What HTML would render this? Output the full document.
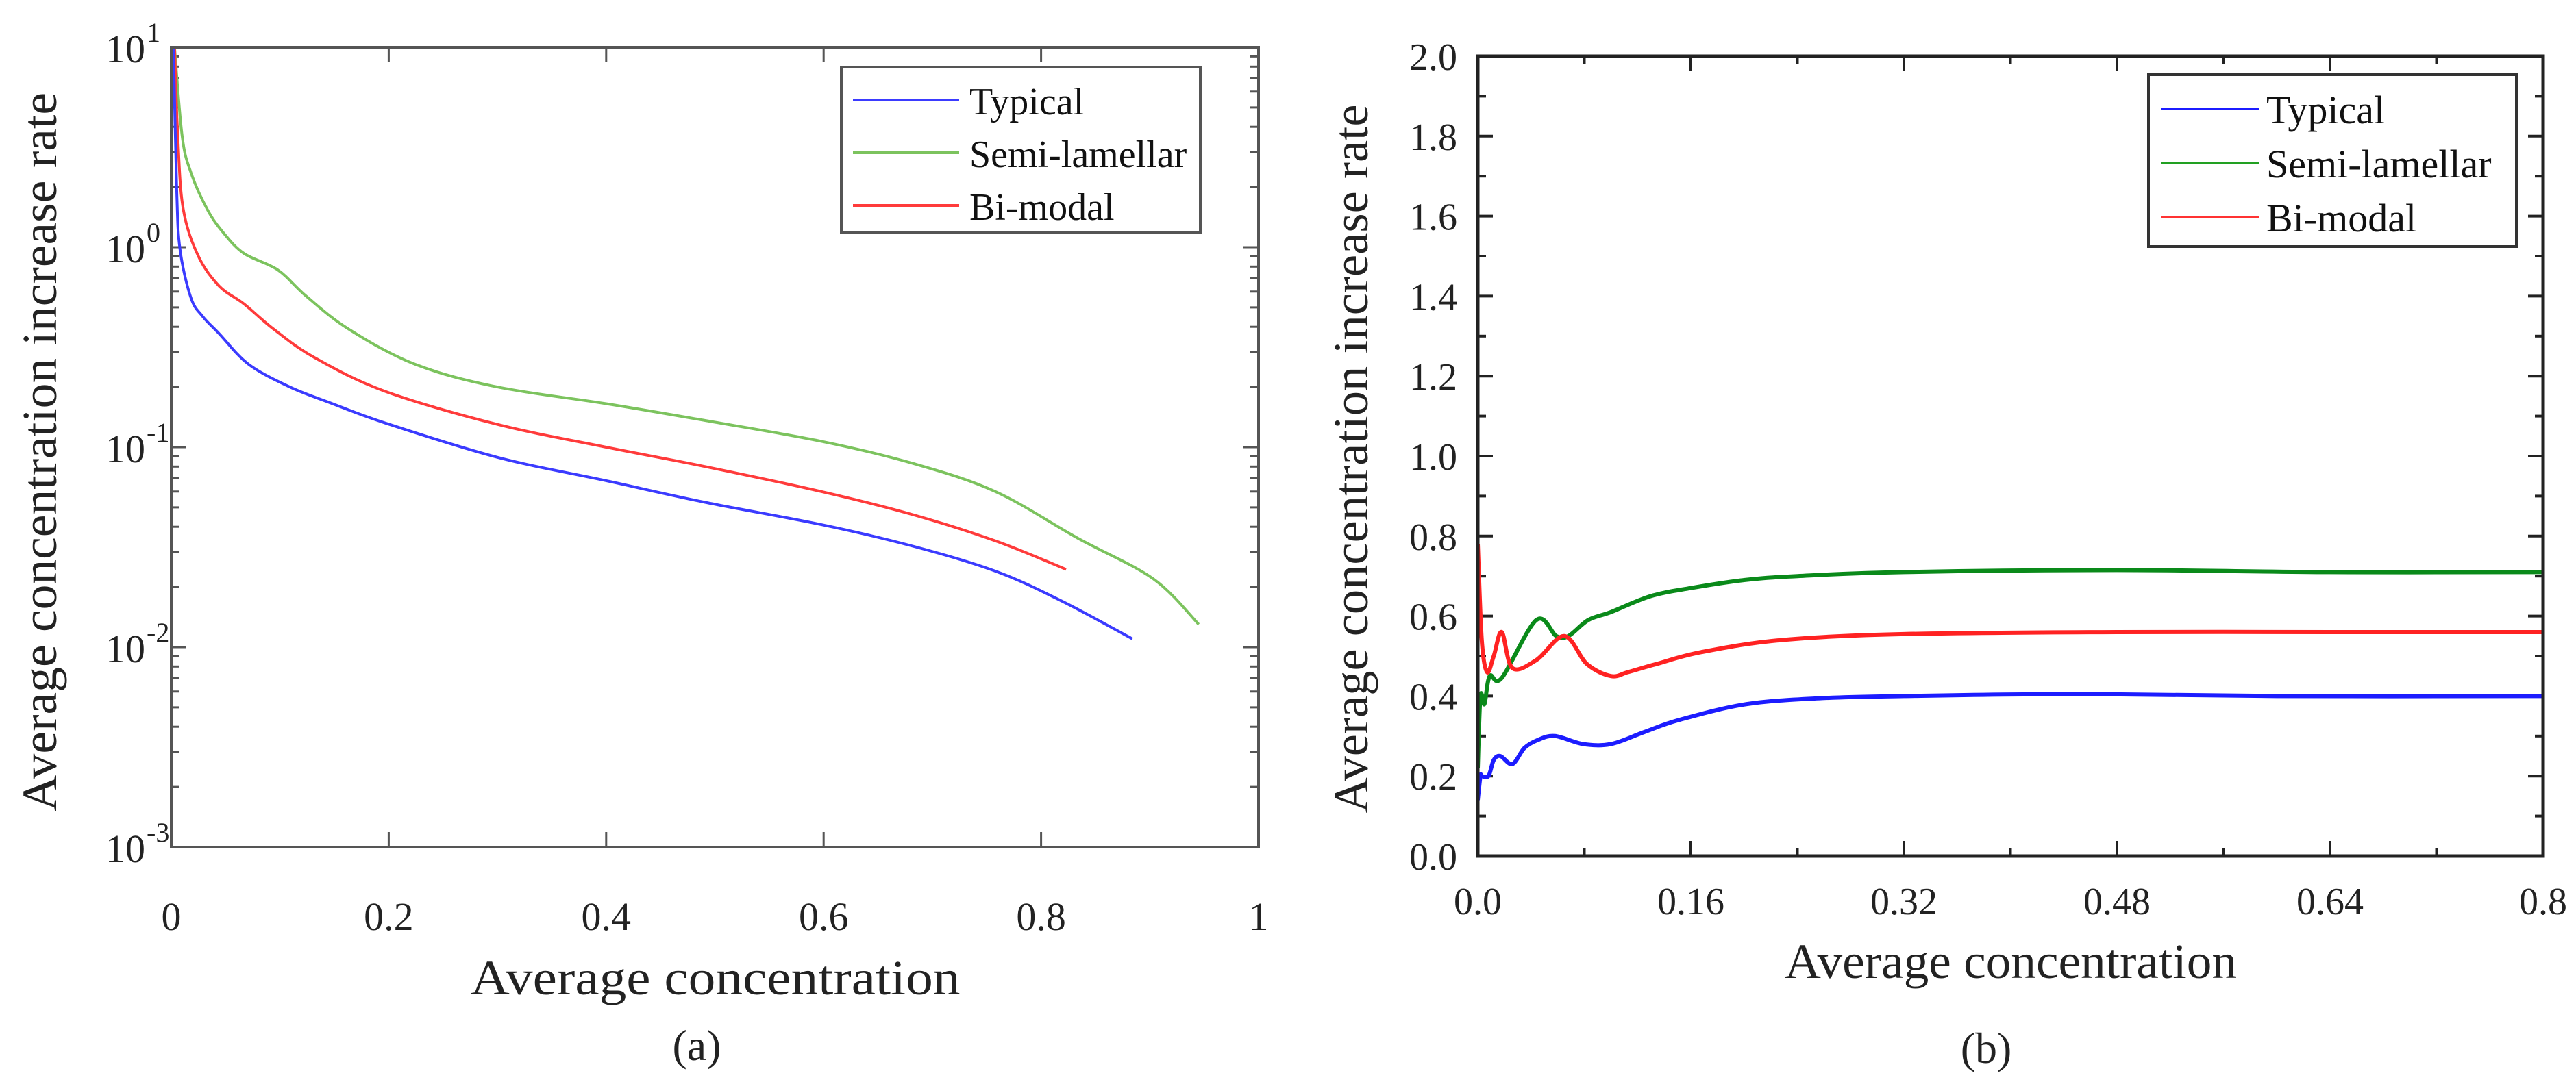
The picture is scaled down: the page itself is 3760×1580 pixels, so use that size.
<!DOCTYPE html>
<html><head><meta charset="utf-8"><style>
html,body{margin:0;padding:0;background:#fff;}
svg{display:block;font-family:"Liberation Serif",serif;}
</style></head><body>
<svg id="fig" width="3760" height="1580" viewBox="0 0 3760 1580" xmlns="http://www.w3.org/2000/svg">
<g id="pa"></g>
<g id="pb"></g>
</svg>
<script>
// ---- Panel (a) data ----
const aTypicalX = [0.002,0.005,0.008,0.018,0.029,0.044,0.071,0.109,0.147,0.197,0.3,0.4,0.491,0.598,0.682,0.758,0.819,0.884];
const aTypicalY = [10,1.95,0.98,0.56,0.45,0.37,0.26,0.2,0.166,0.132,0.089,0.068,0.053,0.041,0.032,0.024,0.017,0.011];
const aSemiX = [0.003,0.01,0.018,0.033,0.048,0.067,0.098,0.124,0.163,0.224,0.3,0.4,0.491,0.598,0.682,0.758,0.834,0.903,0.945];
const aSemiY = [10,3.6,2.37,1.55,1.18,0.93,0.77,0.57,0.39,0.26,0.2,0.165,0.136,0.107,0.083,0.06,0.035,0.022,0.013];
const aBiX = [0.003,0.006,0.011,0.025,0.044,0.067,0.094,0.132,0.197,0.3,0.4,0.491,0.598,0.682,0.758,0.823];
const aBiY = [10,3.6,1.55,0.9,0.64,0.52,0.39,0.28,0.19,0.13,0.1,0.08,0.06,0.046,0.034,0.0245];
const aXTicks = [0,0.2,0.4,0.6,0.8,1];
const aXTickLabels = ["0","0.2","0.4","0.6","0.8","1"];
const aYDecades = [1,0,-1,-2,-3];
// ---- Panel (b) data ----
const bTypicalX = [0,0.002,0.003,0.008,0.012,0.017,0.026,0.035,0.045,0.058,0.079,0.1,0.125,0.151,0.202,0.26,0.32,0.45,0.6,0.8];
const bTypicalY = [0.14,0.2,0.2,0.2,0.24,0.25,0.23,0.27,0.29,0.3,0.28,0.28,0.31,0.34,0.38,0.395,0.4,0.405,0.4,0.4];
const bSemiX = [0,0.002,0.005,0.009,0.018,0.044,0.059,0.068,0.083,0.1,0.13,0.16,0.2,0.24,0.32,0.48,0.64,0.8];
const bSemiY = [0.22,0.4,0.38,0.45,0.445,0.59,0.55,0.55,0.59,0.61,0.65,0.67,0.69,0.70,0.71,0.715,0.71,0.71];
const bBiX = [0,0.003,0.007,0.012,0.018,0.026,0.044,0.065,0.082,0.1,0.113,0.134,0.168,0.228,0.32,0.48,0.64,0.8];
const bBiY = [0.78,0.54,0.46,0.5,0.56,0.47,0.49,0.55,0.48,0.45,0.46,0.48,0.51,0.54,0.555,0.56,0.56,0.56];
const bXTicks = [0,0.16,0.32,0.48,0.64,0.8];
const bXTickLabels = ["0.0","0.16","0.32","0.48","0.64","0.8"];
const bYTicks = [0,0.2,0.4,0.6,0.8,1.0,1.2,1.4,1.6,1.8,2.0];
const bYTickLabels = ["0.0","0.2","0.4","0.6","0.8","1.0","1.2","1.4","1.6","1.8","2.0"];

const NS = "http://www.w3.org/2000/svg";
function mk(parent, tag, attrs, text){
  const e = document.createElementNS(NS, tag);
  for (const k in attrs) e.setAttribute(k, attrs[k]);
  if (text !== undefined) e.textContent = text;
  parent.appendChild(e);
  return e;
}
function smoothPath(pts){
  let d = 'M'+pts[0][0].toFixed(1)+','+pts[0][1].toFixed(1);
  for (let i=0;i<pts.length-1;i++){
    const p0 = pts[Math.max(0,i-1)], p1 = pts[i], p2 = pts[i+1], p3 = pts[Math.min(pts.length-1,i+2)];
    const c1x = p1[0]+(p2[0]-p0[0])/6, c1y = p1[1]+(p2[1]-p0[1])/6;
    const c2x = p2[0]-(p3[0]-p1[0])/6, c2y = p2[1]-(p3[1]-p1[1])/6;
    d += ' C'+c1x.toFixed(1)+','+c1y.toFixed(1)+' '+c2x.toFixed(1)+','+c2y.toFixed(1)+' '+p2[0].toFixed(1)+','+p2[1].toFixed(1);
  }
  return d;
}
// ---------- Panel A ----------
const pa = document.getElementById('pa');
const A = {l:250, r:1837, t:69, b:1237};
const ax = v => A.l + v*(A.r-A.l);
const ay = v => A.t + (1-Math.log10(v))*(A.b-A.t)/4;
for (let d=-3; d<1; d++){
  for (let m=2; m<10; m++){
    const y = ay(m*Math.pow(10,d));
    let t = mk(pa,'line',{x1:A.l,y1:y,x2:A.l+12,y2:y,stroke:'#555','stroke-width':3});
    
    
    t = mk(pa,'line',{x1:A.r,y1:y,x2:A.r-12,y2:y,stroke:'#555','stroke-width':3});
    
    
  }
}
aYDecades.forEach(d=>{
  const y = ay(Math.pow(10,d));
  let t = mk(pa,'line',{x1:A.l,y1:y,x2:A.l+22,y2:y,stroke:'#555','stroke-width':3});
  
  
  t = mk(pa,'line',{x1:A.r,y1:y,x2:A.r-22,y2:y,stroke:'#555','stroke-width':3});
  
  
  const tx = mk(pa,'text',{x:212,y:y+22,'text-anchor':'end','font-size':58,fill:'#222'});
  
  
  mk(tx,'tspan',{},'10');
  const sup = mk(pa,'text',{x:214,y:y-8,'text-anchor':'start','font-size':40,fill:'#222'}, String(d));
  
  
});
aXTicks.forEach((v,i)=>{
  const x = ax(v);
  let t = mk(pa,'line',{x1:x,y1:A.b,x2:x,y2:A.b-22,stroke:'#555','stroke-width':3});
  
  
  t = mk(pa,'line',{x1:x,y1:A.t,x2:x,y2:A.t+22,stroke:'#555','stroke-width':3});
  
  
  const tx = mk(pa,'text',{x:x,y:1358,'text-anchor':'middle','font-size':58,fill:'#222'}, aXTickLabels[i]);
  
  
});
function seriesA(xs, ys, color, name){
  const pts = xs.map((x,i)=>[ax(x), ay(ys[i])]);
  const p = mk(pa,'path',{d:smoothPath(pts),fill:'none',stroke:color,'stroke-width':4,'stroke-linejoin':'round'});
  
  
}
seriesA(aSemiX,aSemiY,'#7cc35e','line-semi-lamellar');
seriesA(aBiX,aBiY,'#ff3b3b','line-bi-modal');
seriesA(aTypicalX,aTypicalY,'#3b3bff','line-typical');
let fr = mk(pa,'rect',{x:A.l,y:A.t,width:A.r-A.l,height:A.b-A.t,fill:'none',stroke:'#555','stroke-width':4});


const legA = mk(pa,'g',{});


mk(legA,'rect',{x:1228,y:98,width:524,height:242,fill:'#fff',stroke:'#555','stroke-width':4});
[['Typical','#3b3bff'],['Semi-lamellar','#7cc35e'],['Bi-modal','#ff3b3b']].forEach((e,i)=>{
  const g = mk(legA,'g',{});
  
  
  const y = 146 + i*77;
  mk(g,'line',{x1:1245,y1:y,x2:1400,y2:y,stroke:e[1],'stroke-width':4});
  mk(g,'text',{x:1415,y:y+21,'font-size':56,fill:'#111'}, e[0]);
});
let t1 = mk(pa,'text',{x:1044,y:1452,'text-anchor':'middle','font-size':72,fill:'#222',textLength:715,lengthAdjust:'spacingAndGlyphs'},'Average concentration');


let t2 = mk(pa,'text',{x:0,y:0,'text-anchor':'middle','font-size':72,fill:'#222',transform:'translate(82,660) rotate(-90)',textLength:1050,lengthAdjust:'spacingAndGlyphs'},'Average concentration increase rate');


let t3 = mk(pa,'text',{x:1017,y:1548,'text-anchor':'middle','font-size':64,fill:'#222'},'(a)');



// ---------- Panel B ----------
const pb = document.getElementById('pb');
const B = {l:2157, r:3712, t:82, b:1250};
const bx = v => B.l + v/0.8*(B.r-B.l);
const by = v => B.b - v/2*(B.b-B.t);
for (let i=0;i<20;i++){
  const v = 0.1+i*0.2; if (v>2) break;
  const y = by(v);
  let t = mk(pb,'line',{x1:B.l,y1:y,x2:B.l+12,y2:y,stroke:'#222','stroke-width':4});
  
  
  t = mk(pb,'line',{x1:B.r,y1:y,x2:B.r-12,y2:y,stroke:'#222','stroke-width':4});
  
  
}
bYTicks.forEach((v,i)=>{
  const y = by(v);
  let t = mk(pb,'line',{x1:B.l,y1:y,x2:B.l+22,y2:y,stroke:'#222','stroke-width':4});
  
  
  t = mk(pb,'line',{x1:B.r,y1:y,x2:B.r-22,y2:y,stroke:'#222','stroke-width':4});
  
  
  const tx = mk(pb,'text',{x:2127,y:y+20,'text-anchor':'end','font-size':56,fill:'#222'}, bYTickLabels[i]);
  
  
});
for (let i=0;i<5;i++){
  const x = bx(0.08+i*0.16);
  let t = mk(pb,'line',{x1:x,y1:B.b,x2:x,y2:B.b-12,stroke:'#222','stroke-width':4});
  
  
  t = mk(pb,'line',{x1:x,y1:B.t,x2:x,y2:B.t+12,stroke:'#222','stroke-width':4});
  
  
}
bXTicks.forEach((v,i)=>{
  const x = bx(v);
  let t = mk(pb,'line',{x1:x,y1:B.b,x2:x,y2:B.b-22,stroke:'#222','stroke-width':4});
  
  
  t = mk(pb,'line',{x1:x,y1:B.t,x2:x,y2:B.t+22,stroke:'#222','stroke-width':4});
  
  
  const tx = mk(pb,'text',{x:x,y:1335,'text-anchor':'middle','font-size':56,fill:'#222'}, bXTickLabels[i]);
  
  
});
function seriesB(xs, ys, color, name){
  const pts = xs.map((x,i)=>[bx(x), by(ys[i])]);
  const p = mk(pb,'path',{d:smoothPath(pts),fill:'none',stroke:color,'stroke-width':6,'stroke-linejoin':'round'});
  
  
}
seriesB(bTypicalX,bTypicalY,'#1c1cff','line-typical');
seriesB(bSemiX,bSemiY,'#0a8a1a','line-semi-lamellar');
seriesB(bBiX,bBiY,'#ff2222','line-bi-modal');
fr = mk(pb,'rect',{x:B.l,y:B.t,width:B.r-B.l,height:B.b-B.t,fill:'none',stroke:'#222','stroke-width':5});


const legB = mk(pb,'g',{});


mk(legB,'rect',{x:3136,y:109,width:537,height:251,fill:'#fff',stroke:'#333','stroke-width':4});
[['Typical','#1c1cff'],['Semi-lamellar','#22a022'],['Bi-modal','#ff3333']].forEach((e,i)=>{
  const g = mk(legB,'g',{});
  
  
  const y = 159 + i*79;
  mk(g,'line',{x1:3154,y1:y,x2:3297,y2:y,stroke:e[1],'stroke-width':4});
  mk(g,'text',{x:3308,y:y+21,'font-size':58,fill:'#111'}, e[0]);
});
t1 = mk(pb,'text',{x:2935,y:1428,'text-anchor':'middle','font-size':72,fill:'#222',textLength:660,lengthAdjust:'spacingAndGlyphs'},'Average concentration');


t2 = mk(pb,'text',{x:0,y:0,'text-anchor':'middle','font-size':72,fill:'#222',transform:'translate(1996,670) rotate(-90)',textLength:1035,lengthAdjust:'spacingAndGlyphs'},'Average concentration increase rate');


t3 = mk(pb,'text',{x:2899,y:1552,'text-anchor':'middle','font-size':64,fill:'#222'},'(b)');


</script>
</body></html>
